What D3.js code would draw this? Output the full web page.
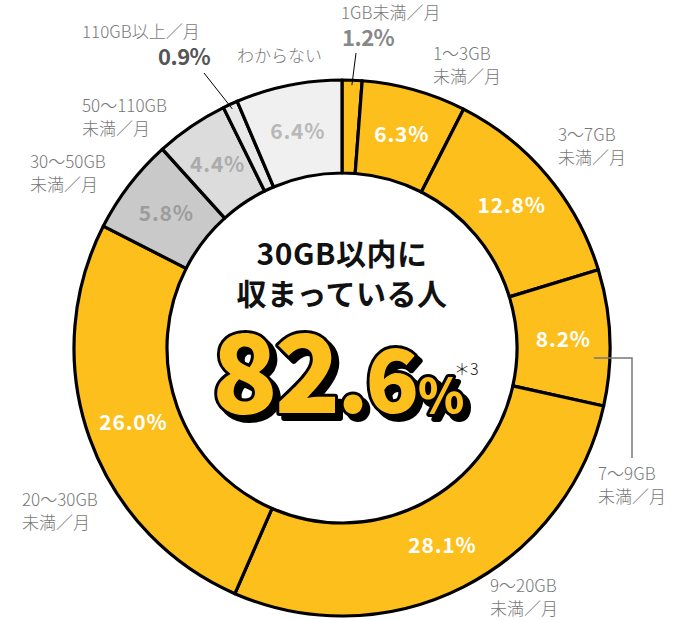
<!DOCTYPE html>
<html>
<head>
<meta charset="utf-8">
<script src="https://cdn.jsdelivr.net/npm/d3@7"></script>
<style>
  body { margin: 0; background: #fff; }
  text { font-family: "Noto Sans CJK JP", "Noto Sans", sans-serif; }
</style>
</head>
<body>
<div id="chart"></div>
<script>
// data, clockwise from 12 o'clock
var categories = ["1GB未満／月", "1〜3GB\n未満／月", "3〜7GB\n未満／月", "7〜9GB\n未満／月",
  "9〜20GB\n未満／月", "20〜30GB\n未満／月", "30〜50GB\n未満／月", "50〜110GB\n未満／月",
  "110GB以上／月", "わからない"];
var values = [1.2, 6.3, 12.8, 8.2, 28.1, 26.0, 5.8, 4.4, 0.9, 6.4];
var headline = ["30GB以内に", "収まっている人"];
var totalInt = "82", totalDec = ".6";

var width = 684, height = 620,
  cx = 342, cy = 348,
  outerR = 268, innerR = 175;

var fill = d3.scaleOrdinal()
  .domain(categories)
  .range(["#fdbf1b", "#fdbf1b", "#fdbf1b", "#fdbf1b", "#fdbf1b", "#fdbf1b",
    "#c9c9c9", "#dcdcdc", "#e8e8e8", "#f0f0f0"]);
var pctColor = d3.scaleOrdinal()
  .domain(categories)
  .range(["#fff", "#fff", "#fff", "#fff", "#fff", "#fff", "#9c9c9c", "#ababab", "#555", "#b8b8b8"]);

// where the outside labels go (annotation layout, not data)
var labelPos = [[341, 19], [433, 60], [558, 141], [598, 480], [490, 592],
  [22, 506], [30, 168], [82, 112], [82, 38], [237, 62]];
var insidePct = [false, true, true, true, true, true, true, true, false, true];

var svg = d3.select("#chart").append("svg")
  .attr("width", width)
  .attr("height", height);

// hard black drop shadow for the big number
var f = svg.append("defs").append("filter")
  .attr("id", "hardShadow")
  .attr("x", "-10%").attr("y", "-10%")
  .attr("width", "130%").attr("height", "130%");
f.append("feOffset").attr("in", "SourceAlpha").attr("dx", 5).attr("dy", 5).attr("result", "off");
f.append("feFlood").attr("flood-color", "#000");
f.append("feComposite").attr("in2", "off").attr("operator", "in").attr("result", "sh");
var fm = f.append("feMerge");
fm.append("feMergeNode").attr("in", "sh");
fm.append("feMergeNode").attr("in", "SourceGraphic");

var g = svg.append("g")
  .attr("transform", "translate(" + cx + "," + cy + ")");

var pie = d3.pie().sort(null).value(function(d) { return d; });
var arcs = pie(values);
var arc = d3.arc().innerRadius(innerR).outerRadius(outerR);

g.selectAll("path.slice")
  .data(arcs)
  .enter().append("path")
  .attr("class", "slice")
  .attr("d", arc)
  .style("fill", function(d, i) { return fill(categories[i]); })
  .style("stroke", "#000")
  .style("stroke-width", 3.2)
  .style("stroke-linejoin", "round");

g.selectAll("text.pct")
  .data(arcs.filter(function(d, i) { return insidePct[i]; }))
  .enter().append("text")
  .attr("class", "pct")
  .attr("transform", function(d) { return "translate(" + arc.centroid(d) + ")"; })
  .attr("text-anchor", "middle")
  .attr("dy", "0.36em")
  .style("font-size", "21px")
  .style("font-weight", 700)
  .style("letter-spacing", "0.8px")
  .style("fill", function(d) { return pctColor(categories[d.index]); })
  .text(function(d) { return d.data.toFixed(1) + "%"; });

// outside labels
var lab = svg.append("g");
categories.forEach(function(c, i) {
  var lines = c.split("\n");
  var t = lab.append("text")
    .attr("x", labelPos[i][0])
    .attr("y", labelPos[i][1])
    .style("font-size", "17px")
    .style("font-weight", 300)
    .style("fill", "#777");
  lines.forEach(function(l, k) {
    t.append("tspan")
      .attr("x", labelPos[i][0])
      .attr("dy", k == 0 ? 0 : 23)
      .text(l);
  });
  if (!insidePct[i]) {
    lab.append("text")
      .attr("x", labelPos[i][0] + (i == 8 ? 76 : 1))
      .attr("y", labelPos[i][1] + 27)
      .style("font-size", "22px")
      .style("font-weight", 700)
      .style("letter-spacing", "-0.5px")
      .style("fill", i == 8 ? "#555" : "#888")
      .text(values[i].toFixed(1) + "%");
  }
});

// leader lines
function leader(i, from, color, w) {
  var a = (arcs[i].startAngle + arcs[i].endAngle) / 2;
  var p = d3.pointRadial(a, outerR - 5);
  svg.append("line")
    .attr("x1", from[0]).attr("y1", from[1])
    .attr("x2", cx + p[0]).attr("y2", cy + p[1])
    .style("stroke", color).style("stroke-width", w);
}
leader(0, [356, 53], "#000", 1);
leader(8, [204, 73], "#000", 1);

// 7-9GB callout starts inside its slice, 10px below centre height
var rIn = outerR - 16,
  a3 = Math.PI / 2 + Math.asin(10 / rIn),
  p3 = d3.pointRadial(a3, rIn);
svg.append("path")
  .attr("d", "M" + (cx + p3[0]) + "," + (cy + p3[1]) + "H632V458")
  .style("fill", "none")
  .style("stroke", "#777")
  .style("stroke-width", 1.5);

// centre text
var center = svg.append("g");
headline.forEach(function(h, k) {
  center.append("text")
    .attr("x", cx)
    .attr("y", 265 + k * 40)
    .attr("text-anchor", "middle")
    .style("font-size", "30px")
    .style("font-weight", 700)
    .style("letter-spacing", "0.5px")
    .style("fill", "#111")
    .text(h);
});

var big = center.append("text")
  .attr("x", 212)
  .attr("y", 413)
  .attr("filter", "url(#hardShadow)")
  .style("font-size", "108px")
  .style("font-weight", 900)
  .style("letter-spacing", "-3px")
  .style("fill", "#fdbf1b")
  .style("stroke", "#000")
  .style("stroke-width", 6)
  .style("stroke-linejoin", "round")
  .style("paint-order", "stroke");
big.append("tspan").text(totalInt);
big.append("tspan").style("font-size", "88px").text(totalDec);
big.append("tspan").style("font-size", "47px").attr("dx", 2).text("%");

center.append("text")
  .attr("x", 454)
  .attr("y", 375)
  .style("font-size", "16px")
  .style("font-weight", 300)
  .style("fill", "#111")
  .text("＊3");
</script>
</body>
</html>
